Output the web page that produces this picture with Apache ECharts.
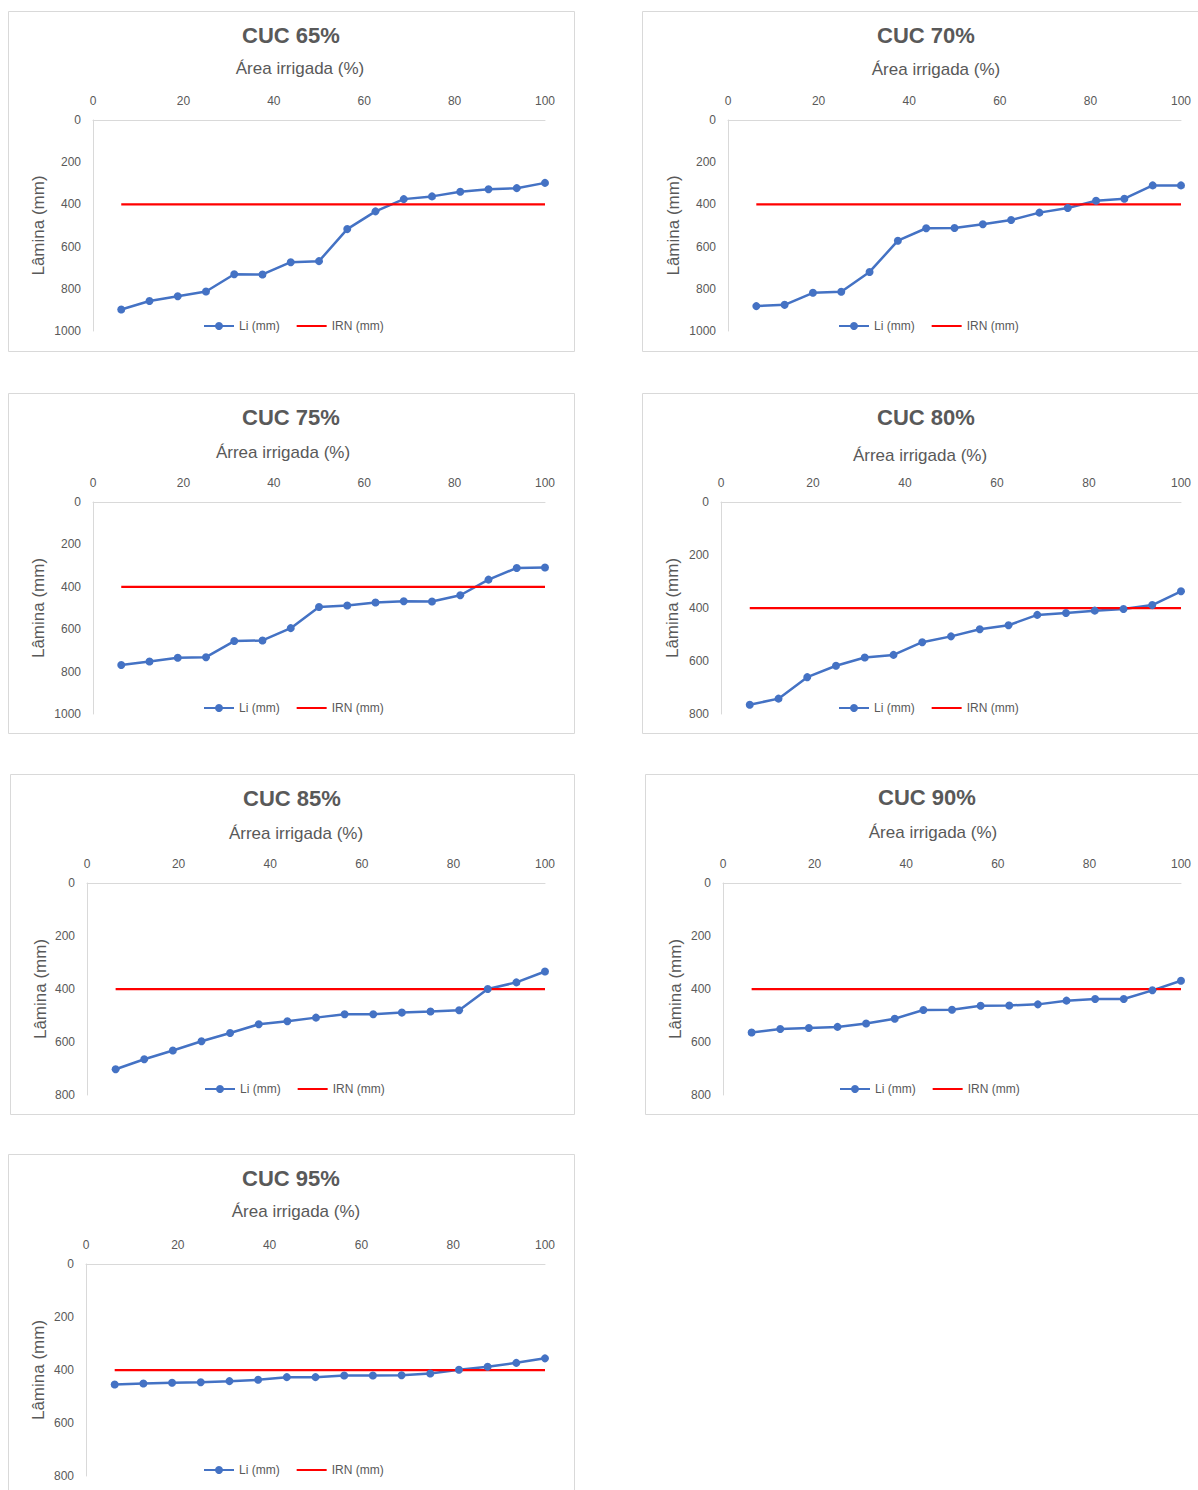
<!DOCTYPE html>
<html>
<head>
<meta charset="utf-8">
<script src="https://cdn.jsdelivr.net/npm/echarts@6/dist/echarts.min.js"></script>
<style>
html,body{margin:0;padding:0;background:#fff;}
#chart{width:1198px;height:1490px;}
</style>
</head>
<body>
<div id="chart"></div>
<script>
// ---- Data ----
const areaIrrigada = [6.25, 12.5, 18.75, 25, 31.25, 37.5, 43.75, 50, 56.25, 62.5, 68.75, 75, 81.25, 87.5, 93.75, 100];
const li65 = [898, 858, 835, 813, 731, 732, 674, 669, 517, 433, 375, 362, 340, 328, 323, 298];
const li70 = [882, 876, 819, 814, 720, 572, 513, 512, 494, 474, 439, 417, 383, 373, 310, 310];
const li75 = [769, 752, 735, 732, 656, 653, 595, 495, 488, 474, 468, 469, 440, 366, 311, 309];
const li80 = [765, 742, 661, 618, 587, 577, 529, 507, 480, 465, 426, 419, 410, 404, 389, 337];
const li85 = [703, 665, 632, 597, 566, 533, 522, 508, 495, 495, 489, 485, 480, 400, 375, 334];
const li90 = [564, 551, 547, 543, 530, 512, 479, 478, 463, 462, 458, 444, 438, 438, 405, 369];
const li95 = [455, 451, 448, 446, 442, 437, 427, 427, 421, 421, 420, 413, 399, 388, 373, 356];
const irnValue = 400;
const chartTitles = ['CUC 65%', 'CUC 70%', 'CUC 75%', 'CUC 80%', 'CUC 85%', 'CUC 90%', 'CUC 95%'];
const xAxisNames = ['Área irrigada (%)', 'Área irrigada (%)', 'Árrea irrigada (%)', 'Árrea irrigada (%)', 'Árrea irrigada (%)', 'Área irrigada (%)', 'Área irrigada (%)'];
const yAxisMax = [1000, 1000, 1000, 800, 800, 800, 800];
const yAxisName = 'Lâmina (mm)';
const seriesNames = ['Li (mm)', 'IRN (mm)'];
const liSets = [li65, li70, li75, li80, li85, li90, li95];

// ---- Layout (pixels) ----
const panels = [
  {box:[8,11,566,340],   grid:[93,120,452,211],  title:[291,36],  sub:[300,70],   yName:38,  legend:[203,320]},
  {box:[642,11,600,340], grid:[728,120,453,211], title:[926,36],  sub:[936,71],   yName:673, legend:[838,320]},
  {box:[8,393,566,340],  grid:[93,502,452,212],  title:[291,418], sub:[283,454],  yName:38,  legend:[203,702]},
  {box:[642,393,600,340],grid:[721,502,460,212], title:[926,418], sub:[920,457],  yName:672, legend:[838,702]},
  {box:[10,774,564,340], grid:[87,883,458,212],  title:[292,799], sub:[296,835],  yName:40,  legend:[204,1083]},
  {box:[645,774,600,340],grid:[723,883,458,212], title:[927,798], sub:[933,834],  yName:675, legend:[839,1083]},
  {box:[8,1154,566,400], grid:[86,1264,459,212], title:[291,1179],sub:[296,1213], yName:38,  legend:[203,1464]}
];

const FONT = '"Liberation Sans", Arial, sans-serif';
const GREY = '#595959';
const AXIS = '#d9d9d9';
const BLUE = '#4472C4';
const RED = '#FF0000';

const grids = [], xAxes = [], yAxes = [], series = [], titles = [], legends = [], graphics = [];

panels.forEach((p, i) => {
  graphics.push({
    type: 'rect', left: p.box[0], top: p.box[1], z: -10, silent: true,
    shape: {width: p.box[2], height: p.box[3]},
    style: {fill: '#fff', stroke: AXIS, lineWidth: 1}
  });
  grids.push({left: p.grid[0], top: p.grid[1], width: p.grid[2], height: p.grid[3], containLabel: false});
  xAxes.push({
    type: 'value', gridIndex: i, position: 'top', min: 0, max: 100, interval: 20,
    axisLine: {show: true, lineStyle: {color: AXIS, width: 1}},
    axisTick: {show: false}, splitLine: {show: false},
    axisLabel: {color: GREY, fontSize: 12, fontFamily: FONT, margin: 13}
  });
  yAxes.push({
    type: 'value', gridIndex: i, inverse: true, min: 0, max: yAxisMax[i], interval: 200,
    name: yAxisName, nameLocation: 'middle', nameRotate: 90,
    nameGap: p.grid[0] - p.yName - 9,
    nameTextStyle: {color: GREY, fontSize: 17, fontFamily: FONT},
    axisLine: {show: true, lineStyle: {color: AXIS, width: 1}},
    axisTick: {show: false}, splitLine: {show: false},
    axisLabel: {color: GREY, fontSize: 12, fontFamily: FONT, margin: 12, formatter: v => String(v)}
  });
  titles.push({
    text: chartTitles[i], left: p.title[0], top: p.title[1] - 12, textAlign: 'center', padding: 0,
    textStyle: {color: GREY, fontSize: 22, fontWeight: 'bold', fontFamily: FONT}
  });
  titles.push({
    text: xAxisNames[i], left: p.sub[0], top: p.sub[1] - 10, textAlign: 'center', padding: 0,
    textStyle: {color: GREY, fontSize: 17, fontWeight: 'normal', fontFamily: FONT}
  });
  legends.push({
    data: [{name: seriesNames[0]}, {name: seriesNames[1], itemStyle: {opacity: 0}}],
    left: p.legend[0], top: p.legend[1], padding: 0,
    itemWidth: 30, itemHeight: 10, itemGap: 16,
    textStyle: {color: GREY, fontSize: 12, fontFamily: FONT}
  });
  series.push({
    name: seriesNames[0], type: 'line', xAxisIndex: i, yAxisIndex: i,
    data: areaIrrigada.map((x, k) => [x, liSets[i][k]]),
    symbol: 'circle', symbolSize: 8, showSymbol: true,
    itemStyle: {color: BLUE}, lineStyle: {color: BLUE, width: 2.5},
    animation: false
  });
  series.push({
    name: seriesNames[1], type: 'line', xAxisIndex: i, yAxisIndex: i,
    data: [[areaIrrigada[0], irnValue], [areaIrrigada[areaIrrigada.length - 1], irnValue]],
    symbol: 'none', showSymbol: false,
    itemStyle: {color: RED}, lineStyle: {color: RED, width: 2.25},
    animation: false
  });
});

const chart = echarts.init(document.getElementById('chart'), null, {renderer: 'svg'});
chart.setOption({
  animation: false,
  backgroundColor: '#fff',
  title: titles,
  legend: legends,
  grid: grids,
  xAxis: xAxes,
  yAxis: yAxes,
  series: series,
  graphic: graphics
});
</script>
</body>
</html>
